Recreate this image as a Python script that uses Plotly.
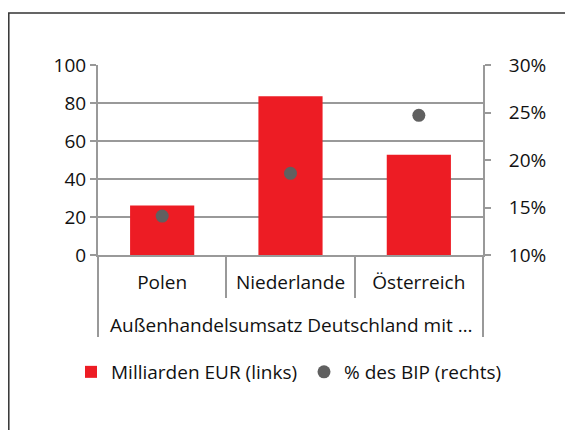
import plotly.graph_objects as go

# Daten
gruppe = "Außenhandelsumsatz Deutschland mit …"
laender = ["Polen", "Niederlande", "Österreich"]
mrd_eur = [26, 83.5, 52.7]        # linke Achse, Milliarden EUR
pct_bip = [14.1, 18.6, 24.7]      # rechte Achse, % des BIP
links_ticks = [0, 20, 40, 60, 80, 100]
rechts_ticks = [10, 15, 20, 25, 30]

ROT = "#ED1C24"
PUNKT = "#606060"
GRAU = "#999999"
FONT = dict(family="'Open Sans', 'Noto Sans', sans-serif", size=19, color="#111111")

# Seite hat 8px Body-Rand -> alle Maße in Screenshot-Pixeln, minus OFF
OFF = 8
W, H = 573, 430
PLOT_L, PLOT_R, PLOT_T, PLOT_B = 98, 483, 65, 255   # Plotfläche im Bild
L, T = PLOT_L - OFF, PLOT_T - OFF
pw, ph = PLOT_R - PLOT_L, PLOT_B - PLOT_T
R, B = W - L - pw, H - T - ph


def px(pixel):
    return (pixel - PLOT_L) / pw


def py(pixel):
    return 1 - (pixel - PLOT_T) / ph


fig = go.Figure()
fig.add_trace(go.Bar(
    x=laender, y=mrd_eur, name="Milliarden EUR (links)",
    marker=dict(color=ROT, line=dict(width=0)),
))
fig.add_trace(go.Scatter(
    x=laender, y=pct_bip, name="% des BIP (rechts)", yaxis="y2",
    mode="markers", marker=dict(color=PUNKT, size=13),
))

# Gruppenbeschriftung unter den Ländern + äußere Trennlinien
fig.add_annotation(
    text=gruppe, xref="paper", yref="paper", x=0.5, y=py(325),
    showarrow=False, font=FONT, xanchor="center", yanchor="middle",
)
for xp in (0, 1):
    fig.add_shape(
        type="line", xref="paper", yref="paper",
        x0=xp, x1=xp, y0=0, y1=py(337),
        line=dict(color=GRAU, width=2),
    )

# Rahmen um die Grafik (rechts/unten abgeschnitten)
fig.add_shape(
    type="rect", xref="paper", yref="paper",
    x0=px(OFF + 0.8), x1=px(W + 40),
    y0=py(H + 40), y1=py(13),
    line=dict(color="#333333", width=1.5), layer="below",
)

fig.update_layout(
    width=W, height=H,
    margin=dict(l=L, r=R, t=T, b=B, autoexpand=False),
    paper_bgcolor="white", plot_bgcolor="white",
    font=FONT,
    bargap=0.5,
    showlegend=True,
    legend=dict(
        orientation="h", x=px(71), xanchor="left",
        y=py(372), yanchor="middle",
        font=FONT, itemclick=False,
        entrywidth=188, entrywidthmode="pixels",
    ),
    xaxis=dict(
        type="category", automargin=False,
        showline=True, linecolor=GRAU, linewidth=2,
        ticks="outside", tickson="boundaries",
        tickcolor=GRAU, tickwidth=2, ticklen=41,
        ticklabelstandoff=9,
        tickfont=FONT,
    ),
    yaxis=dict(
        range=[0, 100], tickvals=links_ticks, automargin=False,
        showgrid=True, gridcolor=GRAU, gridwidth=2,
        showline=True, linecolor=GRAU, linewidth=2,
        ticks="outside", tickcolor=GRAU, tickwidth=2, ticklen=6,
        zeroline=False, tickfont=FONT,
    ),
    yaxis2=dict(
        overlaying="y", side="right", automargin=False,
        range=[10, 30], tickvals=rechts_ticks,
        ticktext=[f"{v}%" for v in rechts_ticks],
        showgrid=False, zeroline=False,
        showline=True, linecolor=GRAU, linewidth=2,
        ticks="outside", tickcolor=GRAU, tickwidth=2, ticklen=6,
        ticklabelstandoff=14,
        tickfont=FONT,
    ),
)

fig.write_html("out.html")
